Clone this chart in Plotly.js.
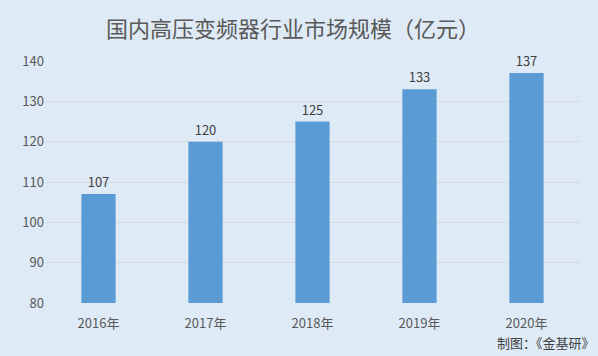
<!DOCTYPE html>
<html><head><meta charset="utf-8">
<script src="https://cdn.plot.ly/plotly-3.0.1.min.js"></script>
<style>html,body{margin:0;padding:0;background:#deeaf6;}</style>
</head><body>
<div id="chart" style="width:598px;height:356px;"></div>
<script>
const categories = ["2016年", "2017年", "2018年", "2019年", "2020年"];
const values = [107, 120, 125, 133, 137];
const yTicks = [80, 90, 100, 110, 120, 130, 140];

const font = "'Noto Sans CJK SC', 'Noto Sans', sans-serif";
Plotly.newPlot("chart", [{
  type: "bar",
  x: categories,
  y: values,
  base: 0,
  marker: {color: "#5b9bd5"},
  text: values.map(String),
  textposition: "outside",
  cliponaxis: false,
  textfont: {family: font, size: 13, color: "#404040"},
  hoverinfo: "none"
}], {
  width: 598, height: 356,
  paper_bgcolor: "#deeaf6", plot_bgcolor: "#deeaf6",
  margin: {l: 45, r: 18, t: 61, b: 53},
  bargap: 0.68,
  showlegend: false,
  title: {text: "国内高压变频器行业市场规模（亿元）", x: 0.49, xanchor: "center", y: 0.918, yanchor: "middle",
          font: {family: font, size: 22, color: "#595959"}},
  xaxis: {type: "category", showgrid: false, zeroline: false, showline: false,
          ticks: "outside", ticklen: 8, tickcolor: "rgba(0,0,0,0)",
          tickfont: {family: font, size: 13, color: "#595959"}},
  yaxis: {range: [80, 140], tickvals: yTicks, showgrid: true, gridcolor: "#d9d9d9", gridwidth: 1,
          zeroline: false, showline: false, ticks: "", ticklen: 0,
          tickfont: {family: font, size: 13, color: "#595959"}},
  annotations: [{text: "制图：《金基研》", xref: "paper", yref: "paper", x: 1.032, y: -0.165,
                 xanchor: "right", yanchor: "middle", showarrow: false,
                 font: {family: font, size: 13, color: "#404040"}}]
}, {displayModeBar: false, staticPlot: true});
</script>
</body></html>
